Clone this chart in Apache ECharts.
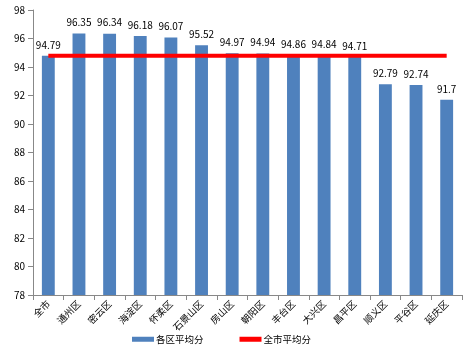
<!DOCTYPE html>
<html><head><meta charset="utf-8">
<script src="https://cdn.jsdelivr.net/npm/echarts@6/dist/echarts.min.js"></script>
<style>html,body{margin:0;padding:0;background:#fff}#c{width:468px;height:353px}</style>
</head><body><div id="c"></div>
<script>
const categories = ['全市','通州区','密云区','海淀区','怀柔区','石景山区','房山区','朝阳区','丰台区','大兴区','昌平区','顺义区','平谷区','延庆区'];
const districtScores = [94.79,96.35,96.34,96.18,96.07,95.52,94.97,94.94,94.86,94.84,94.71,92.79,92.74,91.7];
const cityAverage = [94.79,94.79,94.79,94.79,94.79,94.79,94.79,94.79,94.79,94.79,94.79,94.79,94.79,94.79];
const font = '"Noto Sans CJK SC", sans-serif';
const chart = echarts.init(document.getElementById('c'));
chart.setOption({
  animation: false,
  grid: {left: 33, right: 6, top: 10, bottom: 58},
  legend: {
    bottom: 4, left: 127, itemGap: 36, itemWidth: 22, itemHeight: 5,
    textStyle: {fontFamily: font, fontSize: 9.5, color: '#000', padding: [0, 0, 0, -3]},
    data: [{name: '各区平均分', icon: 'rect'}, {name: '全市平均分', icon: 'rect'}]
  },
  xAxis: {
    type: 'category', data: categories,
    axisLine: {lineStyle: {color: '#888'}},
    axisTick: {show: true, alignWithLabel: false, lineStyle: {color: '#888'}},
    axisLabel: {rotate: 45, interval: 0, fontFamily: font, fontSize: 9.5, color: '#000', margin: 7}
  },
  yAxis: {
    type: 'value', min: 78, max: 98, interval: 2,
    axisLine: {show: true, lineStyle: {color: '#888'}},
    axisTick: {show: true, lineStyle: {color: '#888'}},
    splitLine: {show: false},
    axisLabel: {fontFamily: font, fontSize: 10, color: '#000', margin: 8}
  },
  series: [
    {
      name: '各区平均分', type: 'bar', data: districtScores, barWidth: '42%',
      itemStyle: {color: '#4f81bd'},
      label: {show: true, position: 'top', distance: 6, fontFamily: font, fontSize: 10, color: '#000'}
    },
    {
      name: '全市平均分', type: 'line', data: cityAverage, symbol: 'none',
      lineStyle: {color: '#ff0000', width: 4}, itemStyle: {color: '#ff0000'}, z: 5
    }
  ]
});
</script></body></html>
